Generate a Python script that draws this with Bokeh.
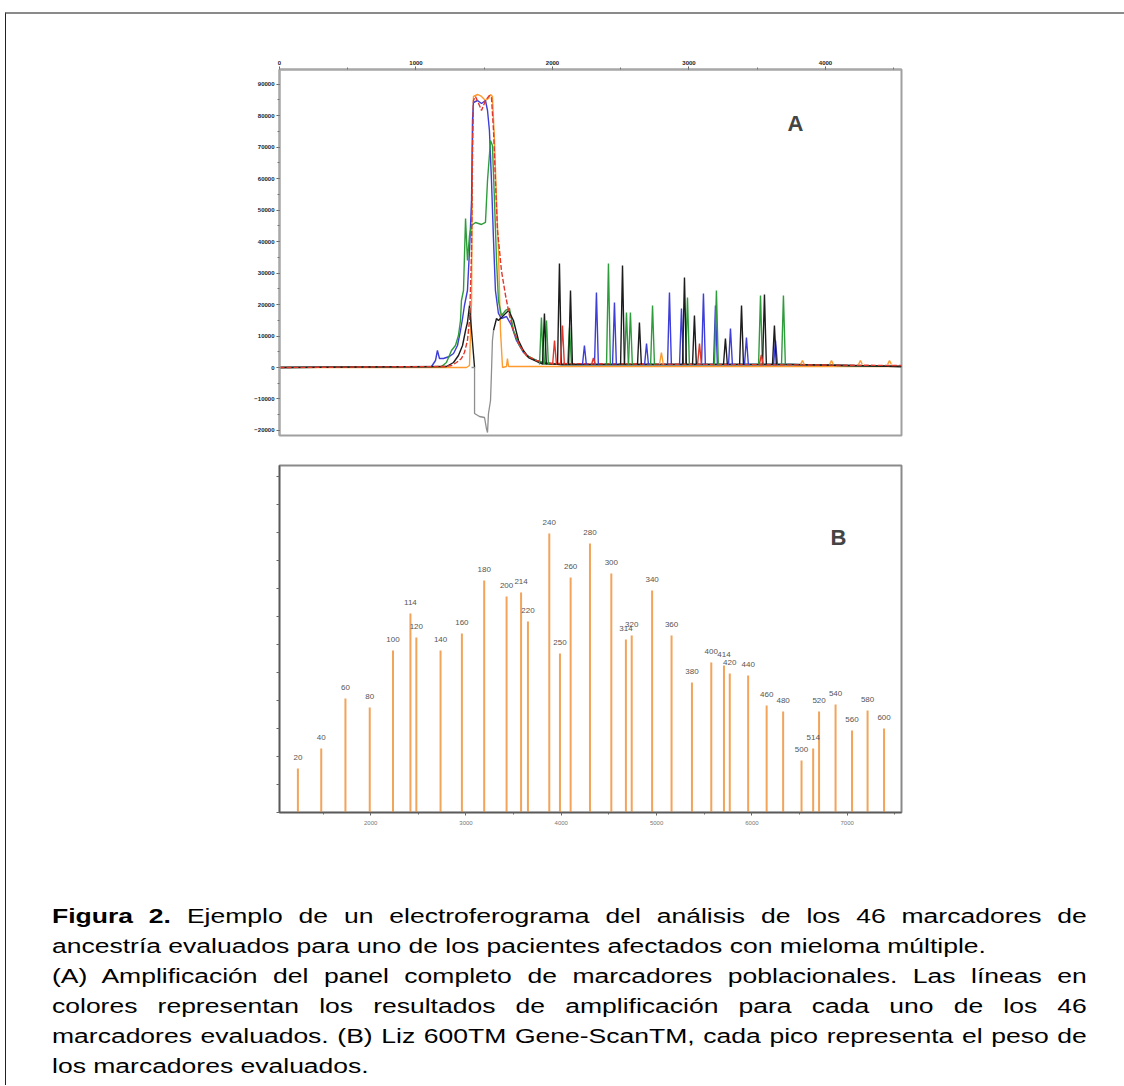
from bokeh.plotting import figure
from bokeh.models import Range1d, SingleIntervalTicker, Label, Div, BasicTickFormatter, CustomJSTickFormatter
from bokeh.layouts import column
from bokeh.embed import file_html
from bokeh.resources import INLINE
from bokeh.core.properties import value

# ---------------- Panel A : electropherogram (scan number vs RFU) ----------------
blue_x = [0, 1114, 1143, 1157, 1172, 1201, 1245, 1275, 1304, 1326, 1341, 1355, 1377, 1392, 1407, 1414,
          1421, 1451, 1480, 1509, 1524, 1538, 1553, 1568, 1582, 1604, 1626, 1663, 1700, 1736, 1787, 1846,
          1919, 2066, 3750, 4557]
blue_y = [0, 318, 2223, 5398, 2858, 2858, 3493, 4445, 6985, 11748, 15558, 19685, 24448, 37148, 53023, 78423,
          84138, 84773, 83820, 84773, 81598, 75248, 59373, 40323, 24448, 17145, 15558, 16193, 13335, 8573, 4763, 2858,
          1588, 953, 953, 318]

green_x = [0, 1187, 1223, 1260, 1289, 1311, 1326, 1333, 1348, 1363, 1377, 1392, 1407, 1436, 1480, 1509, 1524,
           1546, 1560, 1575, 1590, 1604, 1626, 1656, 1685, 1714, 1758, 1809, 1883, 1956, 2066, 3750, 4557]
green_y = [0, 318, 1588, 5398, 6985, 10160, 14923, 21273, 24448, 47308, 33973, 41910, 45085, 46038, 45403, 46038, 59373,
           72073, 70485, 53023, 33973, 21273, 16510, 18098, 18733, 11748, 6985, 3810, 2223, 1270, 953, 953, 318]

black_left_x = [0, 1223, 1275, 1311, 1341, 1363, 1377, 1392, 1407, 1429]
black_left_y = [0, 318, 1588, 3810, 6985, 11748, 14288, 19685, 11748, 0]

grey_dip_x = [1407, 1429, 1429, 1465, 1502, 1516, 1524, 1531, 1546, 1553, 1560, 1568]
grey_dip_y = [0, 0, -14605, -15558, -15875, -19368, -20638, -14605, -10478, -1588, 8573, 11748]

black_right_x = [1568, 1590, 1604, 1641, 1678, 1714, 1751, 1787, 1824, 1919, 2066, 3750, 4557]
black_right_y = [11748, 15558, 14923, 16510, 18098, 14923, 8573, 5398, 3175, 1270, 953, 953, 318]

red_x = [0, 1223, 1260, 1297, 1333, 1355, 1377, 1392, 1399, 1407, 1414, 1421, 1436, 1465, 1480, 1509,
         1538, 1553, 1568, 1582, 1597, 1612, 1626, 1656, 1685, 1714, 1758, 1809, 1883, 1993, 4557]
red_y = [0, 318, 635, 1588, 2858, 4763, 8573, 14923, 24448, 37148, 68898, 84773, 86043, 83185, 81598, 84773,
         86360, 85725, 75248, 59373, 43498, 37148, 30798, 22860, 16510, 11748, 6985, 3810, 2223, 1270, 635]

orange_x = [0, 1370, 1392, 1407, 1414, 1421, 1451, 1480, 1509, 1531, 1546, 1560, 1575, 1590, 1604, 1619,
            1634, 1663, 1670, 1678, 4557]
orange_y = [0, 0, 635, 21273, 68898, 86043, 86678, 86043, 84773, 85408, 86678, 86043, 72073, 53023, 37148, 11748,
            0, 318, 2858, 318, 318]

# sharp marker peaks after the primer peak: position (scan) and height (RFU)
green_pk_x = [1919, 1956, 2125, 2410, 2542, 2571, 2733, 2989, 3201, 3524, 3692]
green_pk_y = [15875, 14920, 12700, 33020, 17460, 17460, 19685, 22225, 24450, 22860, 22860]
black_pk_x = [1941, 2051, 2132, 2513, 2637, 2967, 3040, 3267, 3385, 3553, 3626]
black_pk_y = [17145, 33020, 24450, 32385, 14290, 28575, 16510, 9210, 19685, 23180, 13335]
blue_pk_x = [2234, 2322, 2454, 2689, 2857, 2945, 3106, 3194, 3304, 3421, 3634]
blue_pk_y = [6985, 23810, 20640, 7620, 23810, 18730, 23495, 19685, 12380, 9525, 8570]
red_pk_x = [2015, 2073, 2300, 3077, 3530]
red_pk_y = [8570, 13335, 3000, 7620, 4000]
orange_pk_x = [2798, 3831, 4044, 4256, 4469]
orange_pk_y = [4760, 2220, 2220, 2220, 2220]

# ---------------- Panel B : LIZ 600 size standard ----------------
size_labels = ["20", "40", "60", "80", "100", "114", "120", "140", "160", "180", "200", "214", "220", "240",
               "250", "260", "280", "300", "314", "320", "340", "360", "380", "400", "414", "420", "440", "460",
               "480", "500", "514", "520", "540", "560", "580", "600"]
size_pos = [1236, 1481, 1735, 1990, 2234, 2417, 2479, 2733, 2957, 3191, 3426, 3578, 3650, 3874,
            3986, 4098, 4301, 4525, 4678, 4739, 4953, 5157, 5371, 5574, 5707, 5768, 5961, 6155,
            6328, 6521, 6643, 6705, 6878, 7051, 7214, 7387]
size_height = [786, 1143, 2036, 1875, 2893, 3554, 3125, 2893, 3196, 4143, 3857, 3929, 3411, 4982,
               2839, 4196, 4804, 4268, 3089, 3161, 3964, 3161, 2321, 2679, 2625, 2482, 2446, 1911,
               1804, 929, 1143, 1804, 1929, 1464, 1821, 1500]

# caption lines as printed (True = justified line)
caption_lines = [
    ("<b>Figura 2.</b> Ejemplo de un electroferograma del análisis de los 46 marcadores de", True),
    ("ancestría evaluados para uno de los pacientes afectados con mieloma múltiple.", False),
    ("(A) Amplificación del panel completo de marcadores poblacionales. Las líneas en", True),
    ("colores representan los resultados de amplificación para cada uno de los 46", True),
    ("marcadores evaluados. (B) Liz 600TM Gene-ScanTM, cada pico representa el peso de", True),
    ("los marcadores evaluados.", False),
]

FONT = "Liberation Sans"

# ---------------- build panel A ----------------
pA = figure(width=1116, height=436, x_range=Range1d(0, 4557), y_range=Range1d(-21590, 94615),
            x_axis_location="above", output_backend="svg", toolbar_location=None,
            min_border_left=273, min_border_right=221, min_border_top=55, min_border_bottom=15)
pA.grid.visible = False
pA.outline_line_color = "#a0a0a0"
pA.outline_line_width = 2
pA.xaxis.ticker = SingleIntervalTicker(interval=1000, num_minor_ticks=2)
pA.yaxis.ticker = SingleIntervalTicker(interval=10000, num_minor_ticks=2)
pA.xaxis.formatter = BasicTickFormatter(use_scientific=False)
pA.yaxis.formatter = BasicTickFormatter(use_scientific=False)
for ax in (pA.xaxis[0], pA.yaxis[0]):
    ax.axis_line_color = "#a8a8a8"
    ax.axis_line_width = 2
    ax.major_tick_line_color = "#555555"
    ax.minor_tick_line_color = "#777777"
    ax.major_tick_out = 3
    ax.major_tick_in = 0
    ax.minor_tick_out = 2
    ax.minor_tick_in = 0
    ax.major_label_text_font = FONT
    ax.major_label_text_font_size = "6px"
    ax.major_label_text_font_style = "bold"
    ax.major_label_text_color = "#222222"
    ax.major_label_standoff = 2


def spikes(xs, hs, base=953, half=14):
    return [[x - half, x, x + half] for x in xs], [[base, h, base] for h in hs]


C_BLUE, C_GREEN, C_BLACK, C_GREY, C_RED, C_ORANGE = "#3d3dd8", "#2f9c3c", "#1c1c1c", "#8e8e8e", "#e2382b", "#ff9a2e"

pA.line(orange_x, orange_y, line_color=C_ORANGE, line_width=1.4)
pA.line(blue_x, blue_y, line_color=C_BLUE, line_width=1.4)
pA.line(green_x, green_y, line_color=C_GREEN, line_width=1.4)
pA.line(black_left_x, black_left_y, line_color=C_BLACK, line_width=1.4)
pA.line(black_right_x, black_right_y, line_color=C_BLACK, line_width=1.4)
pA.line(grey_dip_x, grey_dip_y, line_color=C_GREY, line_width=1.3)
pA.line(red_x, red_y, line_color=C_RED, line_width=1.4, line_dash="5 2")

for px, py, col in ((blue_pk_x, blue_pk_y, C_BLUE), (green_pk_x, green_pk_y, C_GREEN),
                    (black_pk_x, black_pk_y, C_BLACK), (red_pk_x, red_pk_y, C_RED),
                    (orange_pk_x, orange_pk_y, C_ORANGE)):
    xs, ys = spikes(px, py)
    pA.multi_line(xs, ys, line_color=col, line_width=1.4)

pA.add_layout(Label(x=3780, y=77470, text="A", text_font=FONT, text_font_size="22px",
                    text_font_style="bold", text_align="center", text_baseline="middle"))

# ---------------- build panel B ----------------
pB = figure(width=1116, height=410, x_range=Range1d(1043, 7570), y_range=Range1d(0, 6196),
            output_backend="svg", toolbar_location=None,
            min_border_left=256, min_border_right=219, min_border_top=15, min_border_bottom=48)
pB.grid.visible = False
pB.outline_line_color = "#8a8a8a"
pB.outline_line_width = 2
pB.xaxis.ticker = SingleIntervalTicker(interval=1000, num_minor_ticks=2)
pB.yaxis.ticker = SingleIntervalTicker(interval=500, num_minor_ticks=0)
pB.xaxis.formatter = BasicTickFormatter(use_scientific=False)
pB.yaxis.formatter = CustomJSTickFormatter(code="return ''")
for ax in (pB.xaxis[0], pB.yaxis[0]):
    ax.axis_line_color = "#5a5a5a"
    ax.axis_line_width = 1.5
    ax.major_tick_line_color = "#666666"
    ax.minor_tick_line_color = "#666666"
    ax.major_tick_out = 3
    ax.major_tick_in = 0
    ax.minor_tick_out = 2
    ax.minor_tick_in = 0
    ax.major_label_text_font = FONT
    ax.major_label_text_font_size = "6px"
    ax.major_label_text_color = "#777777"
    ax.major_label_standoff = 5

pB.segment(x0=size_pos, y0=[0] * len(size_pos), x1=size_pos, y1=size_height,
           line_color="#f2a45a", line_width=2)
pB.text(x=size_pos, y=size_height, text=size_labels, text_font=value(FONT), text_font_size="8px",
        text_color="#555555", text_align="center", text_baseline="middle", y_offset=-11)
pB.add_layout(Label(x=6908, y=4911, text="B", text_font=FONT, text_font_size="22px",
                    text_font_style="bold", text_align="center", text_baseline="middle"))

# ---------------- caption ----------------
line_divs = "".join(
    '<div style="white-space:nowrap; text-align:%s; text-align-last:%s;">%s</div>'
    % (("justify", "justify", t) if j else ("left", "left", t))
    for t, j in caption_lines
)
cap = Div(text=('<div style="box-sizing:content-box; padding:36px 0 0 41px; margin:0;">'
                '<div style="box-sizing:content-box; width:781px; font-family:\'Liberation Sans\', Arial, sans-serif;'
                ' font-size:20px; line-height:30px; color:#000;'
                ' transform:scaleX(1.325); transform-origin:0 0;">' + line_divs + '</div></div>'),
          width=1116, height=215)

layout = column(pA, pB, cap, margin=(12, 0, 0, 5),
                styles={"border-top": "2px solid #8a8a8a", "border-left": "1px solid #222222"})

open("out.html", "w").write(file_html(layout, INLINE))
